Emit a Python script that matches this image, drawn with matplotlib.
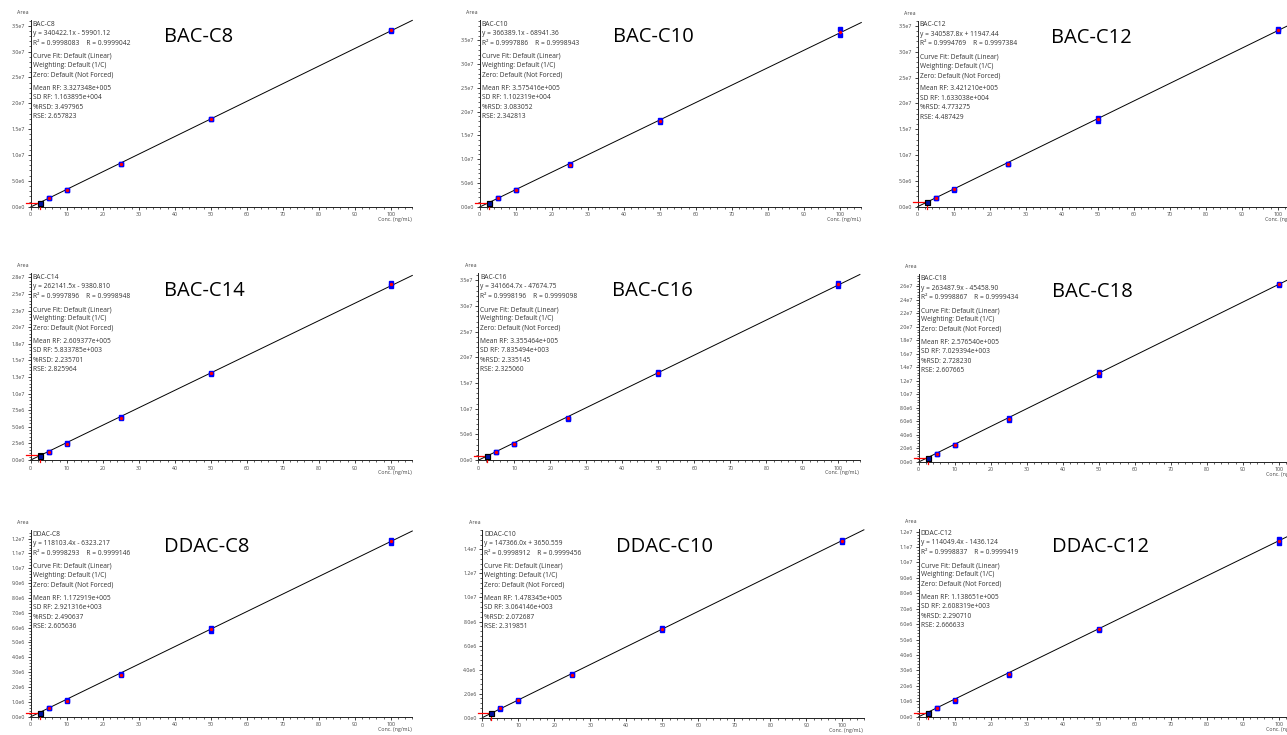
"""
Calibration curves for BAC / DDAC homologues (3x3 grid, SCIEX-style panels).
"""
import math
import matplotlib
matplotlib.use("Agg")
import matplotlib.pyplot as plt
from matplotlib.ticker import MultipleLocator, AutoMinorLocator, FuncFormatter

plt.rcParams["font.family"] = ["Open Sans", "DejaVu Sans"]

W, H = 1287, 735

names = ["BAC-C8", "BAC-C10", "BAC-C12", "BAC-C14", "BAC-C16", "BAC-C18",
         "DDAC-C8", "DDAC-C10", "DDAC-C12"]
slopes = [340422.1, 366389.1, 340587.8, 262141.5, 341664.7, 263487.9,
          118103.4, 147366.0, 114049.4]
intercepts = [-59901.12, -68941.36, 11947.44, -9380.810, -47674.75, -45458.90,
              -6323.217, 3650.559, -1436.124]
r2 = ["0.9998083", "0.9997886", "0.9994769", "0.9997896", "0.9998196",
      "0.9998867", "0.9998293", "0.9998912", "0.9998837"]
r_vals = ["0.9999042", "0.9998943", "0.9997384", "0.9998948", "0.9999098",
          "0.9999434", "0.9999146", "0.9999456", "0.9999419"]
mean_rf = ["3.327348e+005", "3.575416e+005", "3.421210e+005", "2.609377e+005",
           "3.355464e+005", "2.576540e+005", "1.172919e+005", "1.478345e+005",
           "1.138651e+005"]
sd_rf = ["1.163895e+004", "1.102319e+004", "1.633038e+004", "5.833785e+003",
         "7.835494e+003", "7.029394e+003", "2.921316e+003", "3.064146e+003",
         "2.608319e+003"]
rsd = ["3.497965", "3.083052", "4.773275", "2.235701", "2.335145", "2.728230",
       "2.490637", "2.072687", "2.290710"]
rse = ["2.657823", "2.342813", "4.487429", "2.825964", "2.325060", "2.607665",
       "2.605636", "2.319851", "2.666633"]

conc = [2.5, 5, 10, 25, 50, 100]

# two replicate injections per level
area_bac_c8 = [[0.80e6, 1.70e6, 3.30e6, 8.30e6, 1.70e7, 3.42e7],
               [0.78e6, 1.66e6, 3.25e6, 8.20e6, 1.69e7, 3.40e7]]
area_bac_c10 = [[0.88e6, 1.84e6, 3.60e6, 8.96e6, 1.82e7, 3.735e7],
                [0.86e6, 1.80e6, 3.55e6, 8.72e6, 1.79e7, 3.615e7]]
area_bac_c12 = [[0.88e6, 1.74e6, 3.40e6, 8.35e6, 1.72e7, 3.43e7],
                [0.86e6, 1.70e6, 3.30e6, 8.25e6, 1.66e7, 3.41e7]]
area_bac_c14 = [[0.70e6, 1.27e6, 2.50e6, 6.40e6, 1.31e7, 2.665e7],
                [0.66e6, 1.25e6, 2.45e6, 6.35e6, 1.30e7, 2.62e7]]
area_bac_c16 = [[0.80e6, 1.64e6, 3.20e6, 8.26e6, 1.72e7, 3.455e7],
                [0.77e6, 1.62e6, 3.16e6, 8.07e6, 1.685e7, 3.39e7]]
area_bac_c18 = [[0.58e6, 1.21e6, 2.53e6, 6.49e6, 1.337e7, 2.64e7],
                [0.55e6, 1.18e6, 2.43e6, 6.24e6, 1.293e7, 2.62e7]]
area_ddac_c8 = [[0.27e6, 0.60e6, 1.10e6, 2.85e6, 6.00e6, 1.193e7],
                [0.25e6, 0.57e6, 1.07e6, 2.81e6, 5.78e6, 1.173e7]]
area_ddac_c10 = [[0.38e6, 0.79e6, 1.46e6, 3.60e6, 7.46e6, 1.475e7],
                 [0.36e6, 0.76e6, 1.42e6, 3.56e6, 7.29e6, 1.465e7]]
area_ddac_c12 = [[0.26e6, 0.59e6, 1.08e6, 2.77e6, 5.69e6, 1.150e7],
                 [0.22e6, 0.57e6, 1.05e6, 2.73e6, 5.64e6, 1.129e7]]
areas = [area_bac_c8, area_bac_c10, area_bac_c12, area_bac_c14, area_bac_c16,
         area_bac_c18, area_ddac_c8, area_ddac_c10, area_ddac_c12]

y_max = [3.61e7, 3.93e7, 3.60e7, 2.81e7, 3.64e7, 2.78e7, 1.258e7, 1.561e7, 1.215e7]
y_step = [5e6, 5e6, 5e6, 2.5e6, 5e6, 2e6, 1e6, 2e6, 1e6]
X_MAX = 106

# axes boxes in pixels (left, bottom, top) measured from top-left
ax_left = [30.7, 479.7, 917.7, 30.7, 478.3, 918.7, 30.7, 482.3, 918.7]
ax_bottom = [206.7, 206.7, 206.7, 460, 460, 461.7, 716.7, 717.7, 716.7]
ax_top = [20, 20, 20.7, 273.3, 273.3, 274.3, 530, 530, 529.3]
AX_W = 381.6


def sci_fmt(v, pos):
    if abs(v) < 1e-9:
        return "0.0e0"
    e = int(math.floor(math.log10(abs(v)) + 1e-9))
    m = v / 10 ** e
    m = math.floor(m * 10 + 0.5) / 10
    if m >= 10:
        m /= 10
        e += 1
    return f"{m:.1f}e{e}"


fig = plt.figure(figsize=(W / 100, H / 100), dpi=100)

for i, name in enumerate(names):
    l, b, t = ax_left[i], ax_bottom[i], ax_top[i]
    ax = fig.add_axes([l / W, 1 - b / H, AX_W / W, (b - t) / H])
    ax.set_xlim(0, X_MAX)
    ax.set_ylim(0, y_max[i])
    for s in ["top", "right"]:
        ax.spines[s].set_visible(False)
    for s in ["left", "bottom"]:
        ax.spines[s].set_linewidth(0.7)
        ax.spines[s].set_color("#222222")

    ax.xaxis.set_major_locator(MultipleLocator(10))
    ax.xaxis.set_minor_locator(AutoMinorLocator(5))
    ax.yaxis.set_major_locator(MultipleLocator(y_step[i]))
    ax.yaxis.set_minor_locator(AutoMinorLocator(5))
    ax.yaxis.set_major_formatter(FuncFormatter(sci_fmt))
    ax.tick_params(which="major", length=2.5, width=0.6, labelsize=3.8,
                   labelcolor="#444444", pad=1.5, color="#222222")
    ax.tick_params(which="minor", length=1.5, width=0.5, color="#222222")

    # fit line
    xs = [0, X_MAX]
    ax.plot(xs, [slopes[i] * x + intercepts[i] for x in xs], color="black",
            lw=0.7, zorder=2, clip_on=False)

    reps = areas[i]
    for rep in reps:
        ax.plot(conc[1:], rep[1:], ls="none", marker="s", ms=3.0,
                mfc="#0000ff", mec="#0000ff", zorder=3, clip_on=False)
        ax.plot(conc[:1], rep[:1], ls="none", marker="s", ms=3.6,
                mfc="#0010a0", mec="black", mew=0.8, zorder=4)
    means = [(a + c) / 2 for a, c in zip(reps[0], reps[1])]
    ax.plot(conc[1:], means[1:], ls="none", marker="o", ms=1.4,
            mfc="#ff0000", mec="#ff0000", zorder=5, clip_on=False)

    # selected-point crosshair
    ax.plot([-1.2, conc[0]], [means[0], means[0]], color="#ff0000", lw=0.9,
            zorder=3, clip_on=False)
    ax.plot([conc[0], conc[0]], [-0.01 * y_max[i], means[0]], color="#ff0000",
            lw=0.9, zorder=3, clip_on=False)

    # info block
    sign = "-" if intercepts[i] < 0 else "+"
    lines = [
        (name, 0),
        (f"y = {slopes[i]:#.7g}x {sign} {abs(intercepts[i]):#.7g}", 1),
        (f"R\u00b2 = {r2[i]}    R = {r_vals[i]}", 2),
        ("Curve Fit: Default (Linear)", 3.4),
        ("Weighting: Default (1/C)", 4.4),
        ("Zero: Default (Not Forced)", 5.4),
        (f"Mean RF: {mean_rf[i]}", 6.8),
        (f"SD RF: {sd_rf[i]}", 7.8),
        (f"%RSD: {rsd[i]}", 8.8),
        (f"RSE: {rse[i]}", 9.8),
    ]
    for txt, k in lines:
        ax.annotate(txt, xy=(0, 1), xycoords="axes fraction",
                    xytext=(2, -5.8 - 9.4 * k), textcoords="offset pixels",
                    fontsize=4.8, color="#333333", ha="left", va="baseline")

    ax.annotate(name, xy=(0.35, 1), xycoords="axes fraction",
                xytext=(0, -22.5), textcoords="offset pixels",
                fontsize=14.5, color="black", ha="left", va="baseline")
    ax.annotate("Area", xy=(0, 1), xycoords="axes fraction",
                xytext=(-2, 5), textcoords="offset pixels",
                fontsize=3.8, color="#444444", ha="right", va="bottom")
    ax.annotate("Conc. (ng/mL)", xy=(1, 0), xycoords="axes fraction",
                xytext=(-1, -10), textcoords="offset pixels",
                fontsize=3.8, color="#444444", ha="right", va="top")

fig.savefig("out.png", dpi=100)
plt.close(fig)
